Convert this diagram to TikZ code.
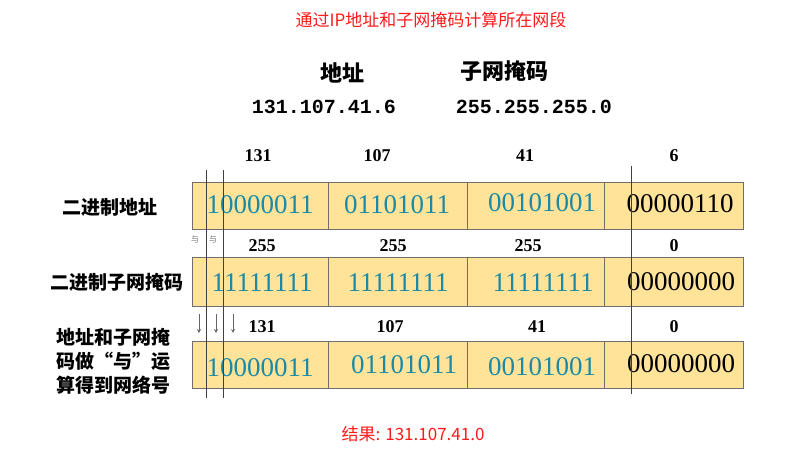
\documentclass[tikz,border=0pt]{standalone}
\usepackage{fontspec}
\setmainfont{Liberation Serif}
\newfontfamily\cjk{Noto Sans CJK SC}
\newfontfamily\monof{Liberation Mono}
\usetikzlibrary{shadows}
\definecolor{cellfill}{HTML}{FFE399}
\definecolor{cellline}{HTML}{6E6E6E}
\definecolor{bincol}{HTML}{1B8AA6}
\definecolor{titlered}{HTML}{FF1A1A}
\tikzset{
  cell/.style={draw=cellline, fill=cellfill, line width=0.8pt, inner sep=0pt, outer sep=0pt,
    minimum height=47pt, drop shadow={opacity=0.25, shadow xshift=1.2pt, shadow yshift=-1.2pt}},
  bin/.style={font=\fontsize{27}{27}\selectfont, text=bincol, inner sep=0pt},
  binb/.style={font=\fontsize{27}{27}\selectfont, text=black, inner sep=0pt},
  num/.style={font=\bfseries\fontsize{18}{18}\selectfont, inner sep=0pt},
  side/.style={font=\cjk\bfseries\fontsize{19}{24}\selectfont, align=center, inner sep=0pt},
  guide/.style={draw=black!75, line width=0.7pt},
  small/.style={font=\cjk\fontsize{8}{8}\selectfont, text=black!55, inner sep=0pt},
  darrow/.style={draw=black!60, line width=0.8pt, -stealth}
}
\begin{document}
\begin{tikzpicture}[x=1pt,y=-1pt]
\useasboundingbox (0,0) rectangle (810,461);
% title
\node[font=\cjk\fontsize{17}{17}\selectfont, text=titlered] (title) at (431,20) {通过IP地址和子网掩码计算所在网段};
\node[font=\cjk\bfseries\fontsize{22}{22}\selectfont] (haddr) at (342,73) {地址};
\node[font=\cjk\bfseries\fontsize{22}{22}\selectfont] (hmask) at (504,71) {子网掩码};
\node[font=\monof\bfseries\fontsize{20}{20}\selectfont] (vaddr) at (324,107) {131.107.41.6};
\node[font=\monof\bfseries\fontsize{20}{20}\selectfont] (vmask) at (534,107) {255.255.255.0};
% row 1
\node[cell, minimum width=136pt] (r1c1) at (260,205.5) {};
\node[cell, minimum width=139pt] (r1c2) at (397.5,205.5) {};
\node[cell, minimum width=137pt] (r1c3) at (535.5,205.5) {};
\node[cell, minimum width=139pt] (r1c4) at (673.5,205.5) {};
% row 2
\node[cell, minimum width=136pt, minimum height=49pt] (r2c1) at (260,281.5) {};
\node[cell, minimum width=139pt, minimum height=49pt] (r2c2) at (397.5,281.5) {};
\node[cell, minimum width=137pt, minimum height=49pt] (r2c3) at (535.5,281.5) {};
\node[cell, minimum width=139pt, minimum height=49pt] (r2c4) at (673.5,281.5) {};
% row 3
\node[cell, minimum width=136pt] (r3c1) at (260,364.5) {};
\node[cell, minimum width=139pt] (r3c2) at (397.5,364.5) {};
\node[cell, minimum width=137pt] (r3c3) at (535.5,364.5) {};
\node[cell, minimum width=139pt] (r3c4) at (673.5,364.5) {};
% binary texts
\node[bin] (b11) at (260,205) {10000011};
\node[bin] (b12) at (397,205) {01101011};
\node[bin] (b13) at (542,203) {00101001};
\node[binb] (b14) at (680,204) {00000110};
\node[bin] (b21) at (262,283) {11111111};
\node[bin] (b22) at (398,283) {11111111};
\node[bin] (b23) at (543,283) {11111111};
\node[binb] (b24) at (681,282) {00000000};
\node[bin] (b31) at (260,368) {10000011};
\node[bin] (b32) at (404,365) {01101011};
\node[bin] (b33) at (542,367) {00101001};
\node[binb] (b34) at (681,364) {00000000};
% numbers
\node[num] (n11) at (258,156) {131};
\node[num] (n12) at (377,156) {107};
\node[num] (n13) at (525,156) {41};
\node[num] (n14) at (674,156) {6};
\node[num] (n21) at (262,246) {255};
\node[num] (n22) at (393,246) {255};
\node[num] (n23) at (528,246) {255};
\node[num] (n24) at (674,246) {0};
\node[num] (n31) at (262,327) {131};
\node[num] (n32) at (390,327) {107};
\node[num] (n33) at (537,327) {41};
\node[num] (n34) at (674,327) {0};
% side labels
\node[side] (s1) at (110,207) {二进制地址};
\node[side] (s2) at (117,282) {二进制子网掩码};
\node[side] (s3) at (113,361) {地址和子网掩\\码做“与”运\\算得到网络号};
% guide lines
\coordinate (g1t) at (206,170); \coordinate (g1b) at (206,398);
\coordinate (g2t) at (223,170); \coordinate (g2b) at (223,398);
\coordinate (g3t) at (631,166); \coordinate (g3b) at (631,394);
\draw[guide] (g1t) -- (g1b);
\draw[guide] (g2t) -- (g2b);
\draw[guide] (g3t) -- (g3b);
% small marks
\node[small] (y1) at (195,240) {与};
\node[small] (y2) at (213,240) {与};
\coordinate (a1t) at (199,314); \coordinate (a1b) at (199,333);
\coordinate (a2t) at (216,314); \coordinate (a2b) at (216,333);
\coordinate (a3t) at (233,314); \coordinate (a3b) at (233,333);
\draw[darrow] (a1t) -- (a1b);
\draw[darrow] (a2t) -- (a2b);
\draw[darrow] (a3t) -- (a3b);
% result
\node[font=\cjk\fontsize{17}{17}\selectfont, text=titlered] (result) at (413,434) {结果: 131.107.41.0};
\end{tikzpicture}
\end{document}
